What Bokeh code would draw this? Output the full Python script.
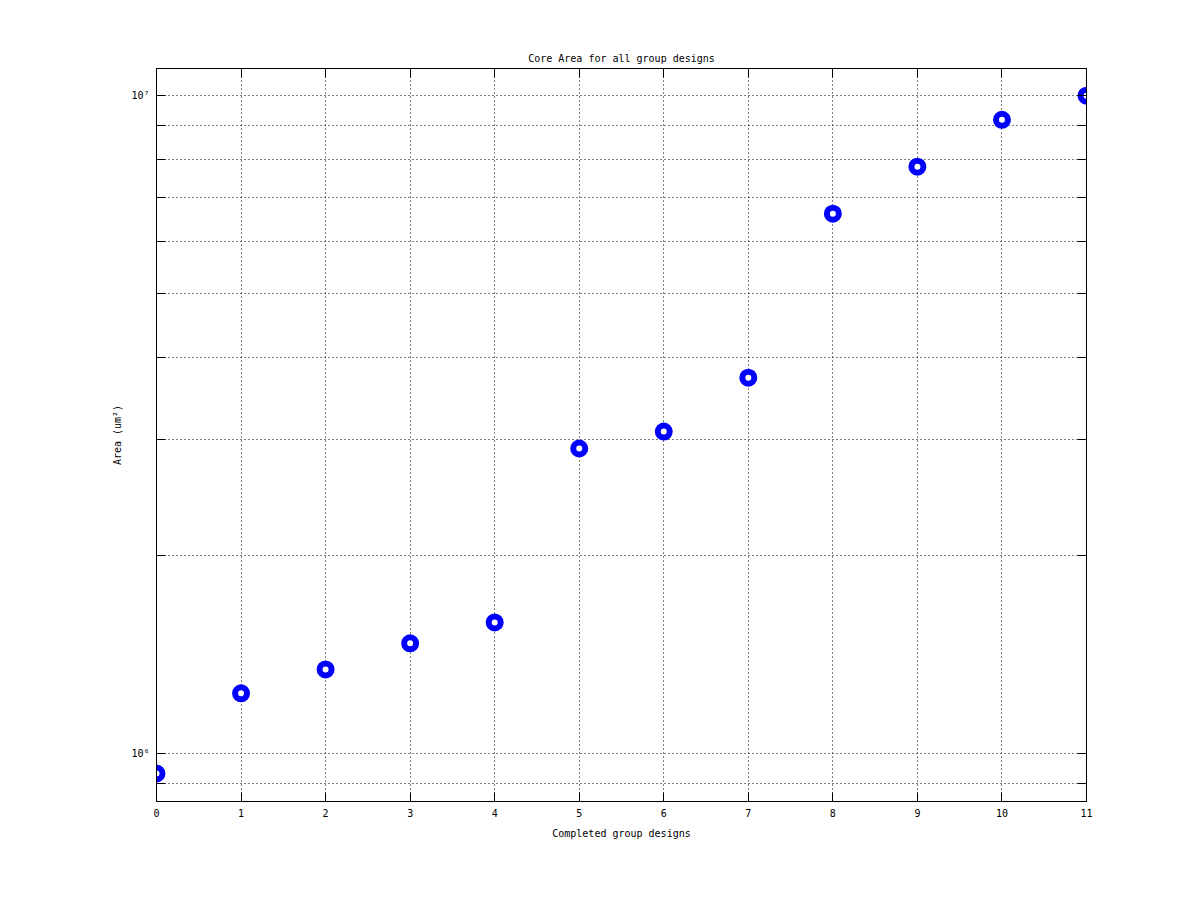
from bokeh.plotting import figure
from bokeh.models import (Range1d, FixedTicker, LinearAxis, LogAxis,
                          CustomJSTickFormatter, ColumnDataSource)
from bokeh.embed import file_html
from bokeh.resources import INLINE

# ---- data ----
designs = [0, 1, 2, 3, 4, 5, 6, 7, 8, 9, 10, 11]
area = [9.32e5, 1.234e6, 1.342e6, 1.47e6, 1.582e6, 2.908e6,
        3.086e6, 3.727e6, 6.617e6, 7.80e6, 9.19e6, 1.0e7]
x_ticks = [0, 1, 2, 3, 4, 5, 6, 7, 8, 9, 10, 11]
y_ticks = [9e5, 1e6, 2e6, 3e6, 4e6, 5e6, 6e6, 7e6, 8e6, 9e6, 1e7]

FONT = "DejaVu Sans Mono"
FS = "10px"

p = figure(frame_width=930, frame_height=733,
           min_border_left=156, min_border_right=106,
           min_border_top=68, min_border_bottom=91,
           y_axis_type="log",
           x_range=Range1d(0, 11), y_range=Range1d(8.45e5, 1.1e7),
           toolbar_location=None, output_backend="svg",
           title="Core Area for all group designs")

p.background_fill_color = "white"
p.border_fill_color = "white"
p.outline_line_color = "black"
p.outline_line_width = 1

p.title.text_font = FONT
p.title.text_font_size = FS
p.title.text_font_style = "normal"
p.title.text_color = "black"
p.title.align = "center"
p.title.standoff = 9

pow10 = CustomJSTickFormatter(code="""
const l = Math.log10(tick);
const r = Math.round(l);
if (Math.abs(l - r) > 1e-9) return '';
const sup = {'0':'\u2070','1':'\u00b9','2':'\u00b2','3':'\u00b3','4':'\u2074',
             '5':'\u2075','6':'\u2076','7':'\u2077','8':'\u2078','9':'\u2079'};
return '10' + String(r).split('').map(c => sup[c]).join('');
""")
blank = CustomJSTickFormatter(code="return '';")

# bottom axis
xa = p.xaxis[0]
xa.ticker = FixedTicker(ticks=x_ticks)
xa.axis_label = "Completed group designs"

# left axis
ya = p.yaxis[0]
ya.ticker = FixedTicker(ticks=y_ticks)
ya.formatter = pow10
ya.axis_label = "Area (um²)"

top = LinearAxis(ticker=FixedTicker(ticks=x_ticks), formatter=blank)
right = LogAxis(ticker=FixedTicker(ticks=y_ticks), formatter=blank)
p.add_layout(top, "above")
p.add_layout(right, "right")

for ax in [xa, ya, top, right]:
    ax.axis_line_color = "black"
    ax.axis_line_width = 1
    ax.major_tick_in = 9
    ax.major_tick_out = 0
    ax.minor_tick_in = 0
    ax.minor_tick_out = 0
    ax.major_tick_line_color = "black"
    ax.major_label_text_font = FONT
    ax.major_label_text_font_size = FS
    ax.major_label_text_color = "black"
    ax.axis_label_text_font = FONT
    ax.axis_label_text_font_size = FS
    ax.axis_label_text_font_style = "normal"
    ax.axis_label_text_color = "black"

xa.major_label_standoff = 7
xa.axis_label_standoff = 8
ya.major_label_standoff = 7
ya.axis_label_standoff = 5
top.major_label_standoff = 0
right.major_label_standoff = 0

for g in [p.xgrid[0], p.ygrid[0]]:
    g.grid_line_color = "black"
    g.grid_line_alpha = 1.0
    g.grid_line_dash = "1 3"
    g.grid_line_width = 1
p.xgrid[0].ticker = FixedTicker(ticks=x_ticks)
p.ygrid[0].ticker = FixedTicker(ticks=y_ticks)

src = ColumnDataSource(data=dict(x=designs, y=area))
p.scatter("x", "y", source=src, size=12, line_width=6,
          line_color="#0000ff", fill_color="white")

open("out.html", "w").write(file_html(p, INLINE))
